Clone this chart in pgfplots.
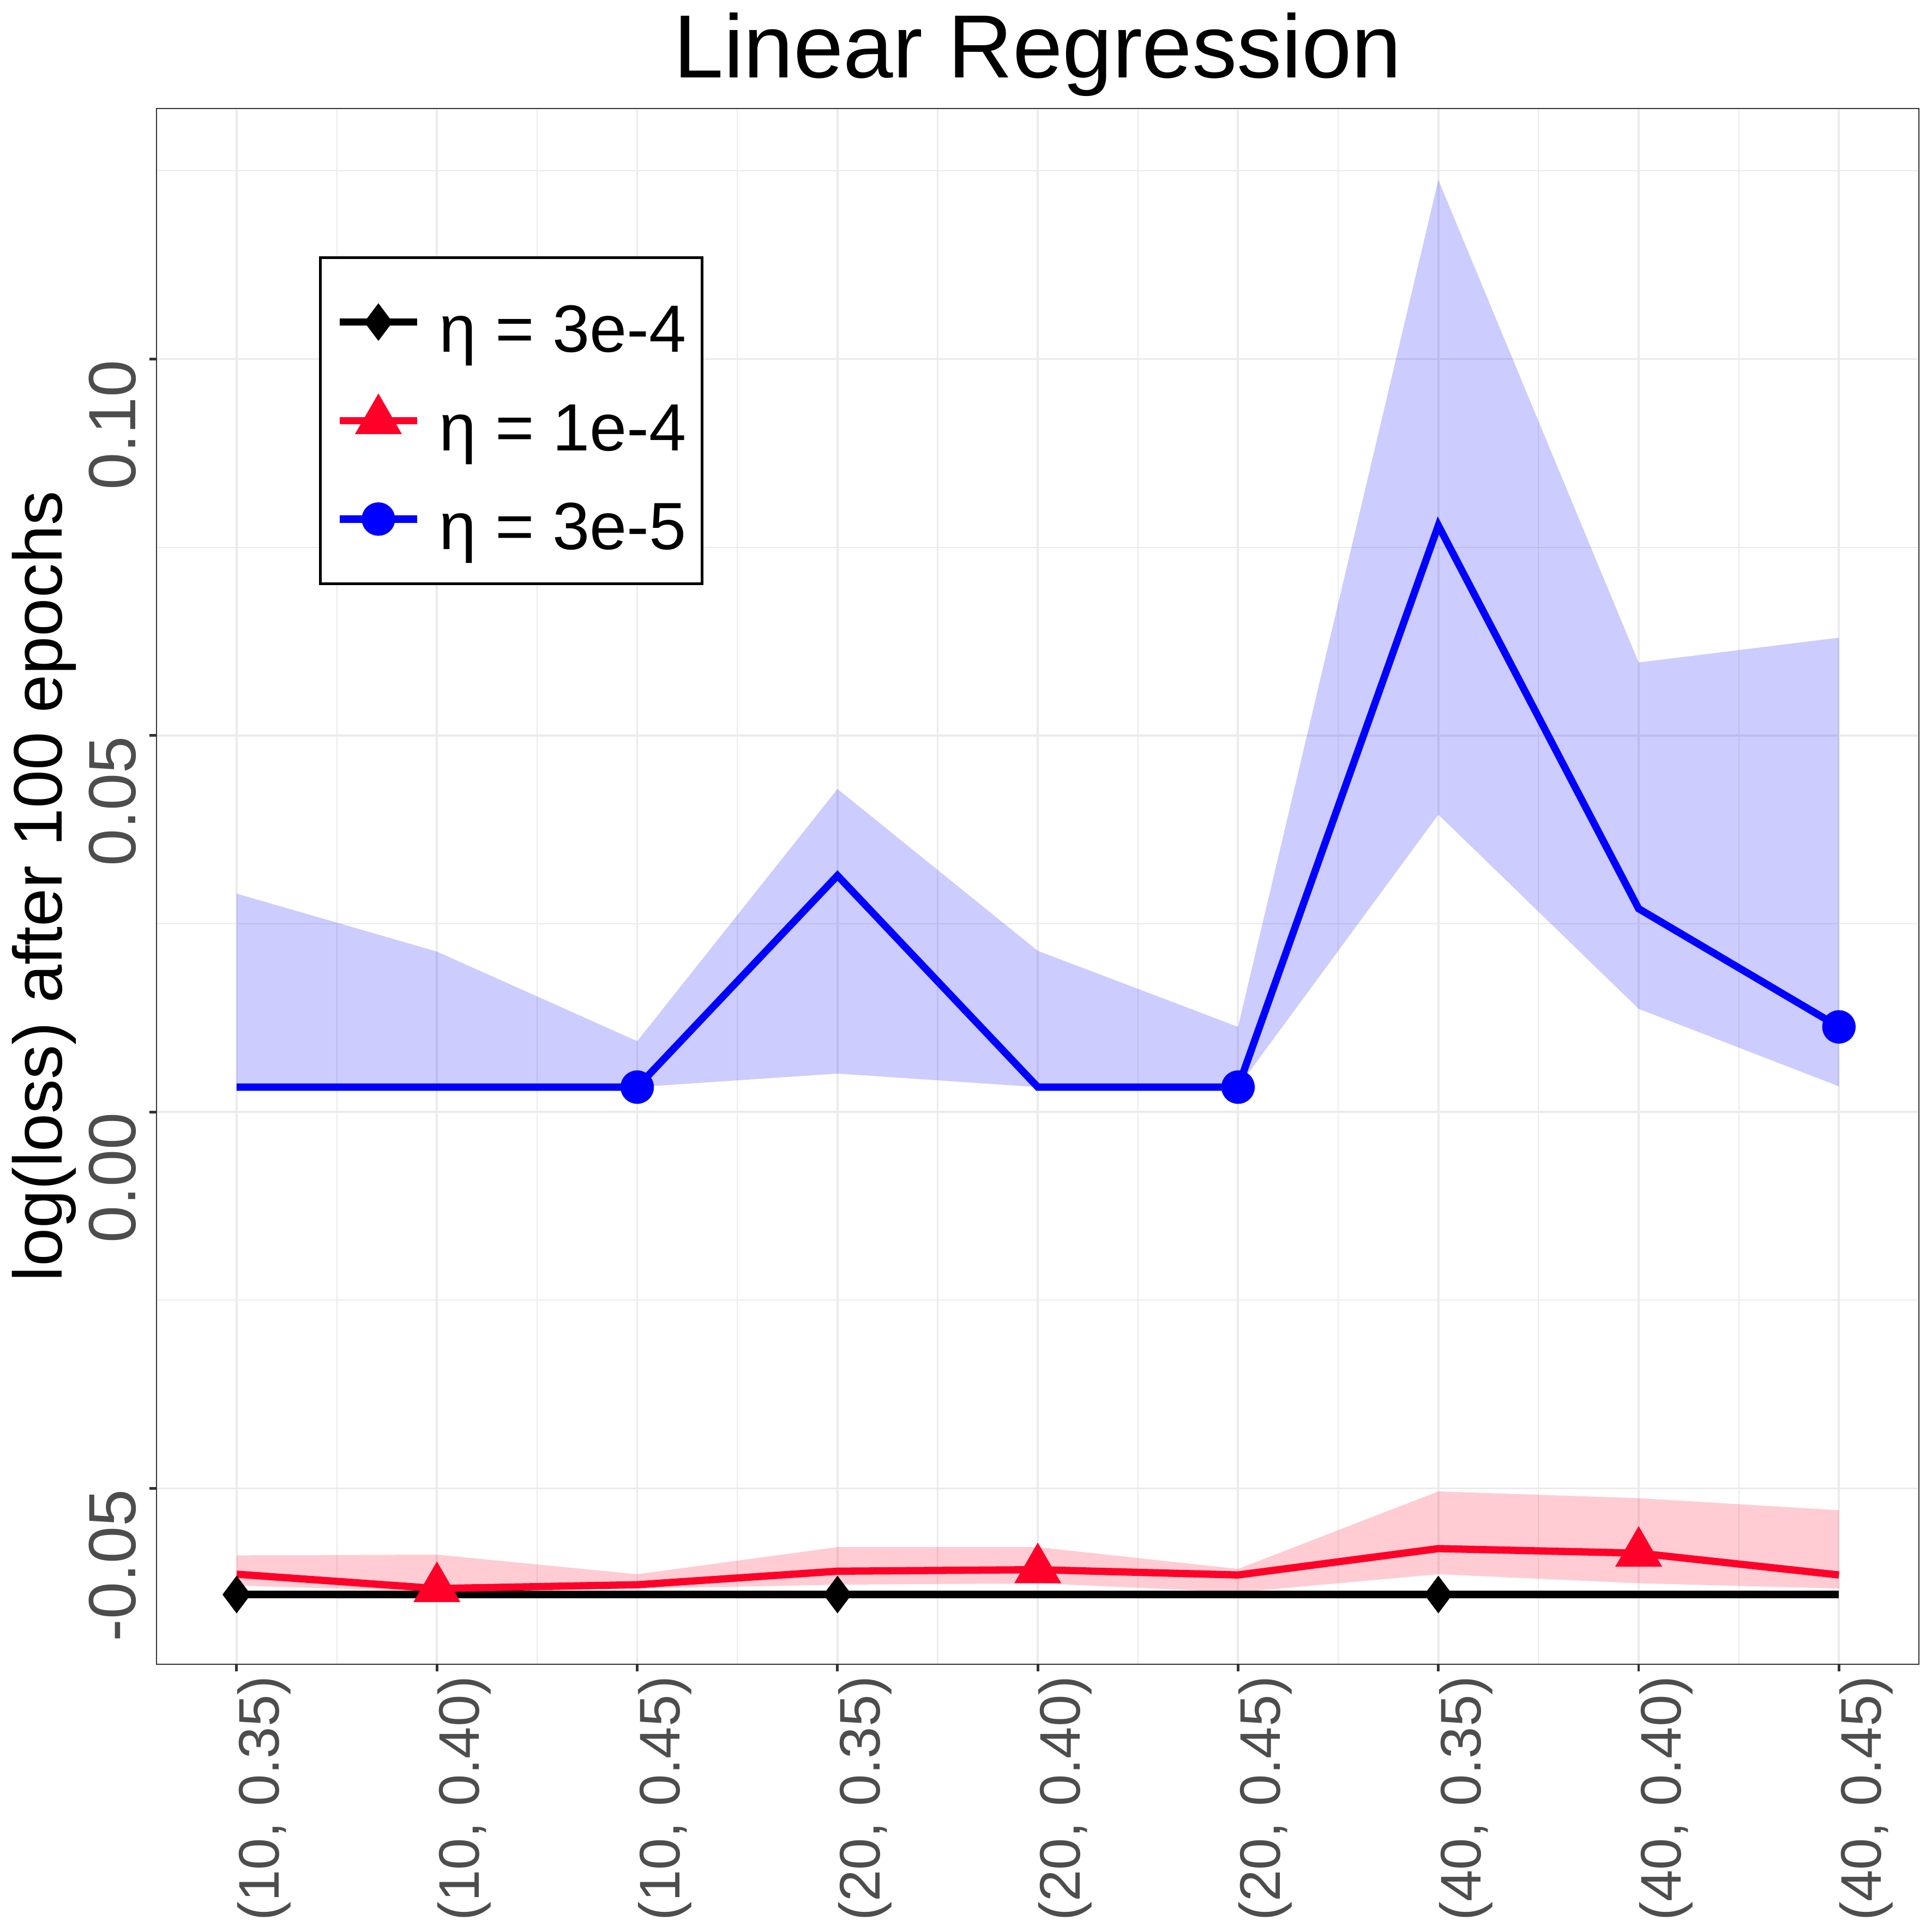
\documentclass[border=0pt]{standalone}
\usepackage{fontspec}
\setmainfont{Liberation Sans}
\usepackage{pgfplots}
\pgfplotsset{compat=1.18}
\usepackage{pgfplotstable}
\usepgfplotslibrary{fillbetween}

\definecolor{lrblue}{RGB}{0,0,255}
\definecolor{lrred}{RGB}{255,0,41}
\definecolor{gridc}{RGB}{235,235,235}
\definecolor{framec}{RGB}{51,51,51}
\definecolor{tickc}{RGB}{77,77,77}

% eta = 3e-5
\pgfplotstableread{
x  lo      mid     hi
0  0.0033  0.0033  0.0290
1  0.0033  0.0033  0.0213
2  0.0033  0.0033  0.0094
3  0.0051  0.0314  0.0429
4  0.0033  0.0033  0.0214
5  0.0033  0.0033  0.0113
6  0.0395  0.0779  0.1238
7  0.0137  0.0270  0.0597
8  0.0034  0.0113  0.0630
}\bluedata

% eta = 1e-4
\pgfplotstableread{
x  lo       mid      hi
0  -0.0629  -0.0614  -0.0589
1  -0.0637  -0.0633  -0.0588
2  -0.0633  -0.0628  -0.0614
3  -0.0628  -0.0610  -0.0578
4  -0.0626  -0.0608  -0.0578
5  -0.0638  -0.0615  -0.0607
6  -0.0614  -0.0580  -0.0504
7  -0.0626  -0.0586  -0.0513
8  -0.0633  -0.0615  -0.0529
}\reddata

% eta = 3e-4
\pgfplotstableread{
x  y
0  -0.0641
1  -0.0641
2  -0.0641
3  -0.0641
4  -0.0641
5  -0.0641
6  -0.0641
7  -0.0641
8  -0.0641
}\blackdata

\begin{document}
\begin{tikzpicture}
\begin{axis}[
    scale only axis,
    width=461.7pt, height=407.6pt,
    xmin=-0.4, xmax=8.4,
    ymin=-0.07338, ymax=0.1333,
    xtick={0,...,8},
    xticklabels={{(10, 0.35)},{(10, 0.40)},{(10, 0.45)},{(20, 0.35)},{(20, 0.40)},{(20, 0.45)},{(40, 0.35)},{(40, 0.40)},{(40, 0.45)}},
    minor xtick={0.5,1.5,...,7.5},
    ytick={-0.05,0,0.05,0.1},
    yticklabels={-0.05,0.00,0.05,0.10},
    minor ytick={-0.025,0.025,0.075,0.125},
    grid=both,
    major grid style={color=gridc, line width=0.55pt},
    minor grid style={color=gridc, line width=0.3pt},
    axis line style={color=framec, line width=0.35pt},
    tick align=outside,
    major tick length=1.8pt,
    minor tick length=0pt,
    tick style={color=framec, line width=0.7pt},
    xtick pos=bottom, ytick pos=left,
    xticklabel style={rotate=90, anchor=north east, inner sep=0pt,
        font=\fontsize{15}{18}\selectfont, text=tickc},
    yticklabel style={rotate=90, anchor=south east, inner sep=0pt,
        font=\fontsize{17.5}{21}\selectfont, text=tickc},
    xticklabel shift=1.0pt,
    yticklabel shift=3.3pt,
    title={Linear Regression},
    title style={at={(axis description cs:0.5,1.0051)}, anchor=base,
        yshift=0pt, inner sep=0pt, font=\fontsize{23.5}{28}\selectfont},
    ylabel={log(loss) after 100 epochs},
    ylabel style={at={(axis description cs:-0.0537,0.5)}, anchor=base,
        inner sep=0pt, font=\fontsize{18}{22}\selectfont},
    legend cell align=left,
    legend style={at={(rel axis cs:0.0923,0.905)}, anchor=north west,
        draw=black, line width=0.7pt, fill=white,
        inner xsep=4.06pt, inner ysep=6.6pt,
        font=\fontsize{17.5}{21}\selectfont,
        nodes={inner sep=0pt, text height=18.2pt, text depth=2.4pt},
        row sep=5.2pt,
        /tikz/every odd column/.append style={column sep=4.9pt}},
    legend image code/.code={
        \draw[#1, mark=none] (0pt,0pt) -- (20.3pt,0pt);
        \draw[#1, mark repeat=1, mark phase=1] plot coordinates {(10.15pt,0pt)};
    },
]
\addplot[draw=none, name path=bhi, forget plot] table[x=x, y=hi]{\bluedata};
\addplot[draw=none, name path=blo, forget plot] table[x=x, y=lo]{\bluedata};
\addplot[fill=lrblue, fill opacity=0.2, draw=none, forget plot] fill between[of=bhi and blo];

\addplot[draw=none, name path=rhi, forget plot] table[x=x, y=hi]{\reddata};
\addplot[draw=none, name path=rlo, forget plot] table[x=x, y=lo]{\reddata};
\addplot[fill=lrred, fill opacity=0.2, draw=none, forget plot] fill between[of=rhi and rlo];

\addplot[black, line width=1.9pt, mark=diamond*, mark size=3.35pt,
    mark repeat=3, mark phase=1, mark options={draw=none, fill=black}]
    table[x=x, y=y]{\blackdata};
\addlegendentry{η = 3e-4}

\addplot[lrred, line width=1.9pt, mark=triangle*, mark size=5.2pt,
    mark repeat=3, mark phase=2, mark options={draw=none, fill=lrred}]
    table[x=x, y=mid]{\reddata};
\addlegendentry{η = 1e-4}

\addplot[lrblue, line width=1.9pt, mark=*, mark size=3.43pt,
    mark repeat=3, mark phase=3, mark options={draw=none, fill=lrblue}]
    table[x=x, y=mid]{\bluedata};
\addlegendentry{η = 3e-5}
\end{axis}
\pgfresetboundingbox
\useasboundingbox (-41pt,-70.1pt) rectangle (465.1pt,436pt);
\end{tikzpicture}
\end{document}
